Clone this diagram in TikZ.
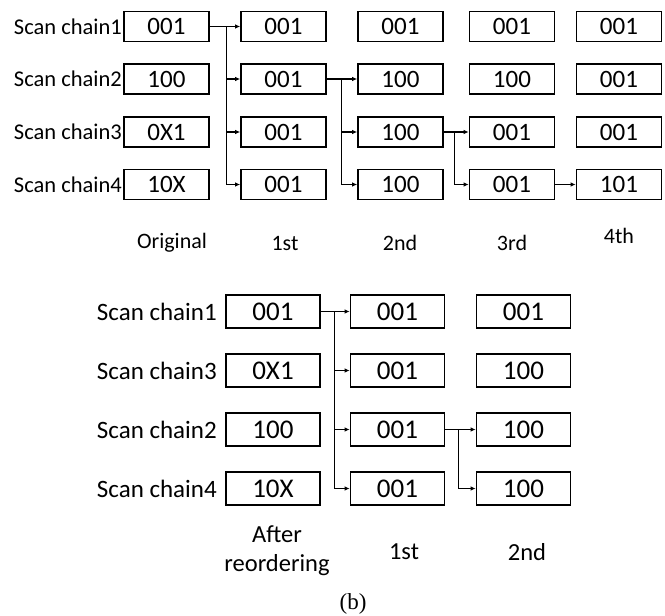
\documentclass[tikz,border=0pt]{standalone}
\usepackage{fontspec}
\setmainfont{Carlito}
\newfontfamily\capfont{Liberation Serif}
\usetikzlibrary{arrows.meta}
\begin{document}
\begin{tikzpicture}[x=1pt,y=-1pt,
  tbox/.style={draw,line width=1.7pt,minimum width=85pt,minimum height=30pt,inner sep=0pt,font=\fontsize{25}{28}\selectfont},
  bbox/.style={draw,line width=1.7pt,minimum width=94pt,minimum height=33pt,inner sep=0pt,font=\fontsize{27}{30}\selectfont},
  tlab/.style={anchor=east,inner sep=0pt,font=\fontsize{22.5}{26}\selectfont},
  blab/.style={anchor=east,inner sep=0pt,font=\fontsize{25}{29}\selectfont},
  tcol/.style={inner sep=0pt,font=\fontsize{22}{25}\selectfont},
  bcol/.style={inner sep=0pt,align=center,font=\fontsize{24.5}{29}\selectfont},
  conn/.style={line width=1.2pt,-{Latex[length=5pt,width=4.5pt]}},
  line/.style={line width=1.2pt}]
\useasboundingbox (0,0) rectangle (665,616);
% ---------- top ----------
\foreach \r/\y/\l in {1/26.5/1,2/79/2,3/132/3,4/184.5/4}{
  \node[tlab] (tl\r) at (122,\y) {Scan chain\l};
}
\node[tbox] (t01) at (166.5,26.5) {001};
\node[tbox] (t02) at (166.5,79) {100};
\node[tbox] (t03) at (166.5,132) {0X1};
\node[tbox] (t04) at (166.5,184.5) {10X};
\node[tbox] (t11) at (283.5,26.5) {001};
\node[tbox] (t12) at (283.5,79) {001};
\node[tbox] (t13) at (283.5,132) {001};
\node[tbox] (t14) at (283.5,184.5) {001};
\node[tbox] (t21) at (400.5,26.5) {001};
\node[tbox] (t22) at (400.5,79) {100};
\node[tbox] (t23) at (400.5,132) {100};
\node[tbox] (t24) at (400.5,184.5) {100};
\node[tbox] (t31) at (512,26.5) {001};
\node[tbox] (t32) at (512,79) {100};
\node[tbox] (t33) at (512,132) {001};
\node[tbox] (t34) at (512,184.5) {001};
\node[tbox] (t41) at (619,26.5) {001};
\node[tbox] (t42) at (619,79) {001};
\node[tbox] (t43) at (619,132) {001};
\node[tbox] (t44) at (619,184.5) {101};
\coordinate (tj1) at ([xshift=17pt]t01.east);
\coordinate (tj2) at ([xshift=15pt]t12.east);
\coordinate (tj3) at ([xshift=11pt]t23.east);
\draw[conn] (t01.east) -- (t11.west);
\draw[line] (t01.east) -- (tj1);
\draw[conn] (tj1) |- (t12.west);
\draw[conn] (tj1) |- (t13.west);
\draw[conn] (tj1) |- (t14.west);
\draw[conn] (t12.east) -- (t22.west);
\draw[conn] (tj2) |- (t23.west);
\draw[conn] (tj2) |- (t24.west);
\draw[conn] (t23.east) -- (t33.west);
\draw[conn] (tj3) |- (t34.west);
\draw[conn] (t34.east) -- (t44.west);
\node[tcol] (c0) at (172,243) {Original};
\node[tcol] (c1) at (285,243) {1st};
\node[tcol] (c2) at (400,243) {2nd};
\node[tcol] (c3) at (512,243) {3rd};
\node[tcol] (c4) at (619,236) {4th};
% ---------- bottom ----------
\node[blab] (bl1) at (217,311.5) {Scan chain1};
\node[blab] (bl2) at (217,370.5) {Scan chain3};
\node[blab] (bl3) at (217,429.5) {Scan chain2};
\node[blab] (bl4) at (217,488.5) {Scan chain4};
\node[bbox] (b01) at (273,311.5) {001};
\node[bbox] (b02) at (273,370.5) {0X1};
\node[bbox] (b03) at (273,429.5) {100};
\node[bbox] (b04) at (273,488.5) {10X};
\node[bbox] (b11) at (397.5,311.5) {001};
\node[bbox] (b12) at (397.5,370.5) {001};
\node[bbox] (b13) at (397.5,429.5) {001};
\node[bbox] (b14) at (397.5,488.5) {001};
\node[bbox] (b21) at (523.5,311.5) {001};
\node[bbox] (b22) at (523.5,370.5) {100};
\node[bbox] (b23) at (523.5,429.5) {100};
\node[bbox] (b24) at (523.5,488.5) {100};
\coordinate (bj1) at ([xshift=14pt]b01.east);
\coordinate (bj2) at ([xshift=13pt]b13.east);
\draw[conn] (b01.east) -- (b11.west);
\draw[conn] (bj1) |- (b12.west);
\draw[conn] (bj1) |- (b13.west);
\draw[conn] (bj1) |- (b14.west);
\draw[conn] (b13.east) -- (b23.west);
\draw[conn] (bj2) |- (b24.west);
\node[bcol] (d0) at (277,551) {After\\reordering};
\node[bcol] (d1) at (404,552) {1st};
\node[bcol] (d2) at (527,552) {2nd};
\node[inner sep=0pt,font=\capfont\fontsize{23}{26}\selectfont] (cap) at (353,604) {(b)};
\end{tikzpicture}
\end{document}
